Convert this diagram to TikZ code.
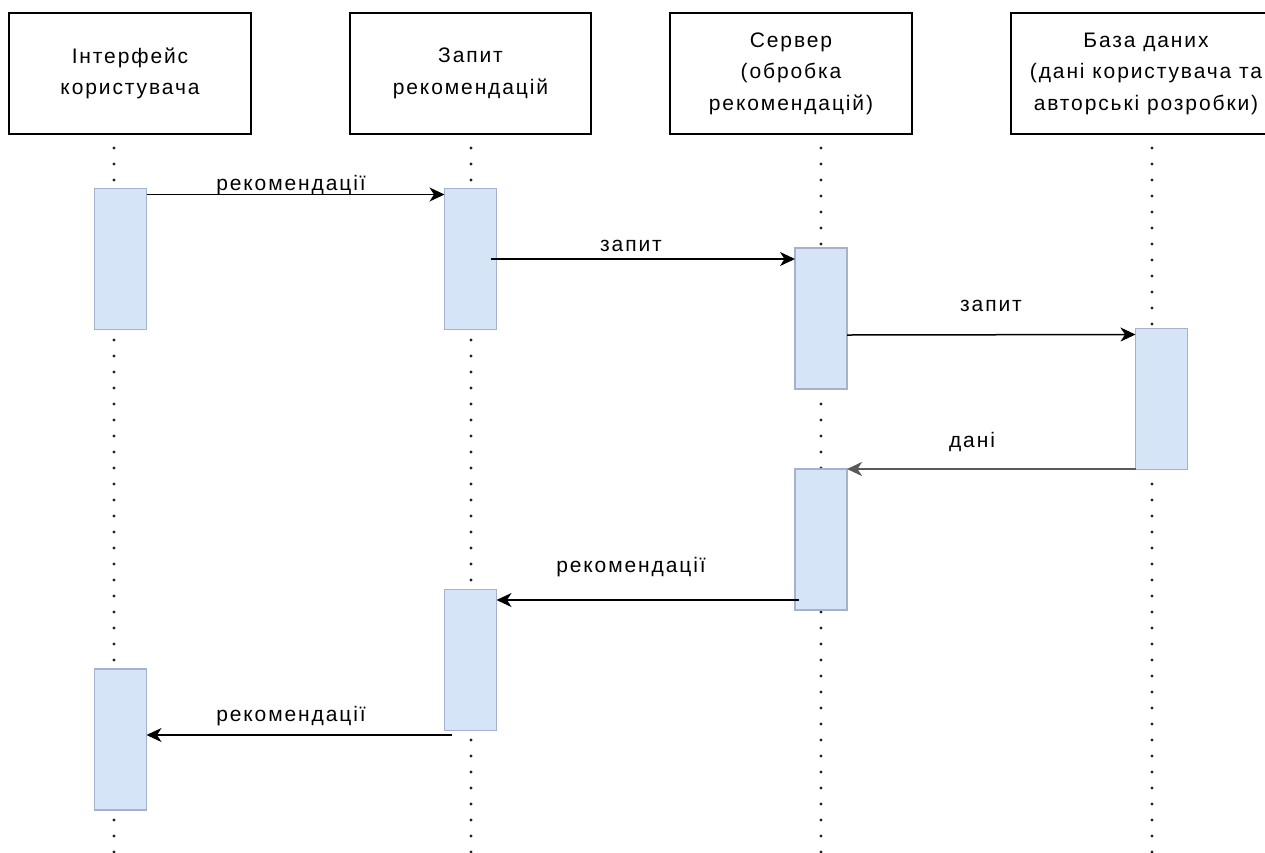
\documentclass[tikz,border=0pt]{standalone}
\usepackage{fontspec}
\setmainfont{Liberation Sans}[LetterSpace=9]
\usetikzlibrary{arrows.meta}
\definecolor{actfill}{HTML}{D6E4F7}
\definecolor{actdraw}{HTML}{A2B3CB}
\definecolor{dotcol}{HTML}{222222}
\begin{document}
\begin{tikzpicture}[x=1pt,y=-1pt,
  every node/.style={font=\fontsize{21}{31.5}\selectfont},
  head/.style={draw=black, line width=1.4pt, minimum height=121pt, inner sep=0pt, align=center, fill=white},
  act/.style={draw=actdraw, fill=actfill, line width=1.6pt, minimum width=52pt, minimum height=141pt, inner sep=0pt, outer sep=0pt},
  life/.style={draw=dotcol, line width=3.4pt, line cap=round, dash pattern=on 0pt off 16pt},
  msg/.style={line width=1.5pt, -{Stealth[length=15pt,width=14pt,inset=4.5pt]}},
  msggray/.style={line width=2.4pt, draw=black!65, -{Stealth[length=15pt,width=14pt,inset=4.5pt]}},
  lbl/.style={inner sep=0pt, anchor=base}]
\useasboundingbox (0,0) rectangle (1265,852);
\fill[white] (0,0) rectangle (1265,852);

% lifelines
\coordinate (t1) at (114,148); \coordinate (e1) at (114,860);
\coordinate (t2) at (471,148); \coordinate (e2) at (471,860);
\coordinate (t3) at (821,148); \coordinate (e3) at (821,860);
\coordinate (t4) at (1152,148); \coordinate (e4) at (1152,860);
\draw[life] (t1) -- (e1);
\draw[life] (t2) -- (e2);
\draw[life] (t3) -- (e3);
\draw[life] (t4) -- (e4);

% headers
\node[head, minimum width=242pt] (h1) at (130,73.5) {Інтерфейс\\користувача};
\node[head, minimum width=241pt] (h2) at (470.5,73.5) {Запит\\рекомендацій};
\node[head, minimum width=242pt] (h3) at (791,73.5) {\rule{0pt}{4pt}Сервер\\(обробка\\рекомендацій)};
\node[head, minimum width=270pt] (h4) at (1146,73.5) {\rule{0pt}{4pt}База даних\\(дані користувача та\\авторські розробки)};

% activations
\node[act] (a1) at (120.5,259) {};
\node[act] (a2) at (470.5,259) {};
\node[act] (a3) at (821,318.5) {};
\node[act] (a4) at (1161.5,399) {};
\node[act] (a5) at (821,539.5) {};
\node[act] (a6) at (470.5,660) {};
\node[act] (a7) at (120.5,739.5) {};

% messages
\draw[msg] ([yshift=-6pt]a1.north east) -- ([yshift=-6pt]a2.north west);
\node[lbl] (l1) at (291,190) {рекомендації};

\draw[msg] ([xshift=-6pt,yshift=-70.5pt]a2.north east) -- ([yshift=-11pt]a3.north west);
\node[lbl] (l2) at (631,251) {запит};

\draw[msg] ([yshift=-87pt]a3.north east) -- ([yshift=-6pt]a4.north west);
\node[lbl] (l3) at (991,311) {запит};

\draw[msggray] ([yshift=0.5pt]a4.south west) -- (a5.north east);
\node[lbl] (l4) at (972,447) {дані};

\draw[msg] ([xshift=4pt,yshift=10pt]a5.south west) -- ([yshift=-10.5pt]a6.north east);
\node[lbl] (l5) at (631,572) {рекомендації};

\draw[msg] ([xshift=7pt,yshift=-4.5pt]a6.south west) -- ([yshift=-66pt]a7.north east);
\node[lbl] (l6) at (291,721) {рекомендації};
\end{tikzpicture}
\end{document}
